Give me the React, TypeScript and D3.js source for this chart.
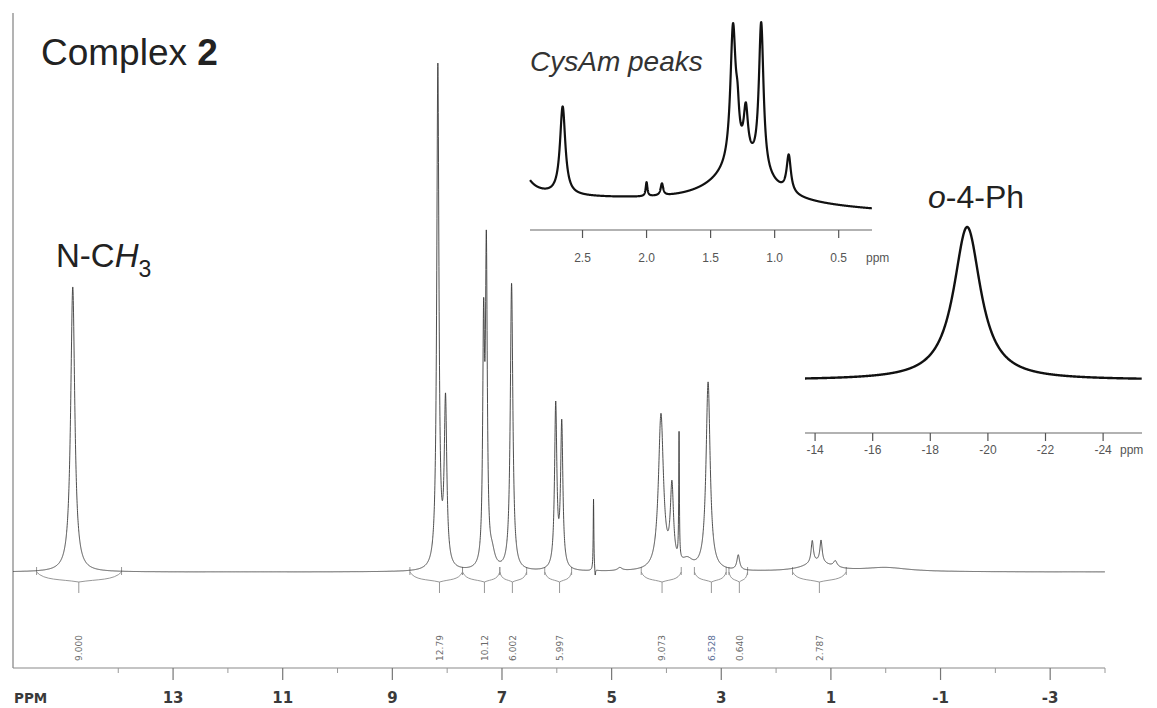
import React, { useEffect } from "react";
import * as d3 from "d3";

const W = 1157;
const H = 708;

// ---------- main spectrum: peak table [ppm, height, half-width(ppm)] ----------
const mainPeaks: [number, number, number][] = [
  [14.83, 285, 0.045],
  [8.17, 502, 0.024],
  [8.03, 164, 0.028],
  [7.335, 228, 0.02],
  [7.285, 305, 0.02],
  [7.18, 14, 0.06],
  [6.825, 287, 0.028],
  [6.02, 163, 0.025],
  [5.91, 144, 0.025],
  [5.33, 72, 0.007],
  [5.3, -8, 0.008],
  [4.85, 3, 0.05],
  [4.1, 155, 0.055],
  [3.9, 78, 0.035],
  [3.77, 126, 0.007],
  [3.62, 9, 0.12],
  [3.24, 188, 0.045],
  [2.69, 15, 0.03],
  [1.25, 9, 0.3],
  [1.34, 22, 0.025],
  [1.18, 22, 0.025],
  [0.92, 6, 0.04],
  [0.0, 4, 0.5],
];

// integrals: from ppm, centre ppm, to ppm, label
const integralFrom = [15.49, 8.68, 7.72, 7.04, 6.22, 4.46, 3.49, 2.86, 1.7];
const integralCentre = [14.72, 8.14, 7.32, 6.81, 5.95, 4.08, 3.18, 2.67, 1.21];
const integralTo = [13.94, 7.72, 7.04, 6.55, 5.73, 3.73, 2.91, 2.52, 0.72];
const integralLabels = ["9.000", "12.79", "10.12", "6.002", "5.997", "9.073", "6.528", "0.640", "2.787"];

const mainMajorTicks = [13, 11, 9, 7, 5, 3, 1, -1, -3];
const mainMinorTicks = [14, 12, 10, 8, 6, 4, 2, 0, -2, -4];

// ---------- inset 1 (CysAm) ----------
const inset1Peaks: [number, number, number][] = [
  [3.0, 32, 0.08],
  [1.25, 42, 0.25],
  [2.655, 88, 0.025],
  [2.0, 14, 0.008],
  [1.88, 12, 0.012],
  [1.325, 135, 0.025],
  [1.29, 30, 0.015],
  [1.225, 47, 0.02],
  [1.105, 149, 0.022],
  [0.89, 37, 0.02],
];
const inset1Baseline: [number, number][] = [
  [2.91, 16],
  [0.24, 1],
];
const inset1Ticks = [2.5, 2.0, 1.5, 1.0, 0.5];

// ---------- inset 2 (o-4-Ph) ----------
const inset2Peaks: [number, number, number][] = [[-19.28, 153, 0.57]];
const inset2Ticks = [-14, -16, -18, -20, -22, -24];

function lorentz(peaks: [number, number, number][], p: number) {
  let s = 0;
  for (const [c, h, g] of peaks) {
    const u = (p - c) / g;
    s += h / (1 + u * u);
  }
  return s;
}

function bracePath(xl: number, xc: number, xr: number, y0: number) {
  const d = 10;
  return (
    `M${xl},${y0} C${xl + (xc - xl) * 0.18},${y0 + d * 0.85} ${xc - (xc - xl) * 0.45},${y0 + d * 0.7} ${xc},${y0 + d} ` +
    `C${xc + (xr - xc) * 0.45},${y0 + d * 0.7} ${xr - (xr - xc) * 0.18},${y0 + d * 0.85} ${xr},${y0}`
  );
}

const SANS = "'Liberation Sans', Arial, Helvetica, sans-serif";
const VERD = "'DejaVu Sans', Verdana, sans-serif";

export default function App() {
  useEffect(() => {
    document.body.style.margin = "0";
  }, []);

  // main scales
  const x = d3.scaleLinear().domain([15.92, -4.0]).range([13, 1105]);
  const y = d3.scaleLinear().domain([0, 509]).range([572, 63]);
  const mainData = d3.range(15.92, -4.0, -0.002).map((p) => [p, lorentz(mainPeaks, p)] as [number, number]);
  const mainLine = d3
    .line<[number, number]>()
    .x((d) => x(d[0]))
    .y((d) => y(d[1]))(mainData) as string;

  // inset 1
  const x1 = d3.scaleLinear().domain([2.91, 0.24]).range([530, 872]);
  const y1 = d3.scaleLinear().domain([0, 200]).range([212, 12]);
  const base1 = d3
    .scaleLinear()
    .domain(inset1Baseline.map((d) => d[0]))
    .range(inset1Baseline.map((d) => d[1]));
  const ins1Data = d3.range(2.91, 0.24, -0.001).map((p) => [p, base1(p) + lorentz(inset1Peaks, p)] as [number, number]);
  const ins1Line = d3
    .line<[number, number]>()
    .x((d) => x1(d[0]))
    .y((d) => y1(d[1]))(ins1Data) as string;

  // inset 2
  const x2 = d3.scaleLinear().domain([-13.65, -25.35]).range([805, 1142]);
  const y2 = d3.scaleLinear().domain([0, 153]).range([380, 227]);
  const ins2Data = d3.range(-13.65, -25.35, -0.01).map((p) => [p, lorentz(inset2Peaks, p)] as [number, number]);
  const ins2Line = d3
    .line<[number, number]>()
    .x((d) => x2(d[0]))
    .y((d) => y2(d[1]))(ins2Data) as string;

  const y0 = y(0);
  const axisY = 668;

  return (
    <svg
      width={W}
      height={H}
      viewBox={`0 0 ${W} ${H}`}
      style={{ display: "block", position: "absolute", left: 0, top: 0, background: "#fff" }}
    >
      <rect x={0} y={0} width={W} height={H} fill="#fff" />
      {/* frame */}
      <line x1={13} y1={13} x2={13} y2={axisY} stroke="#9a9a9a" strokeWidth={1.5} />
      <line x1={13} y1={axisY} x2={x(-4)} y2={axisY} stroke="#8a8a8a" strokeWidth={1.2} />
      {mainMajorTicks.map((t) => (
        <g key={"M" + t}>
          <line x1={x(t)} x2={x(t)} y1={axisY} y2={axisY + 12} stroke="#777" strokeWidth={1.2} />
          <text
            x={x(t)}
            y={703}
            textAnchor="middle"
            fontFamily={VERD}
            fontWeight="bold"
            fontSize={15}
            fill="#3a3a3a"
          >
            {t}
          </text>
        </g>
      ))}
      {mainMinorTicks.map((t) => (
        <line key={"m" + t} x1={x(t)} x2={x(t)} y1={axisY} y2={axisY + 5} stroke="#999" strokeWidth={1} />
      ))}
      <text x={14} y={703} fontFamily={VERD} fontWeight="bold" fontSize={13.5} fill="#3a3a3a">
        PPM
      </text>

      {/* integrals */}
      {integralLabels.map((lab, i) => {
        const xl = x(integralFrom[i]);
        const xc = x(integralCentre[i]);
        const xr = x(integralTo[i]);
        return (
          <g key={"int" + i} fill="none" stroke="#8c8c8c" strokeWidth={0.9}>
            <path d={bracePath(xl, xc, xr, y0)} />
            <line x1={xl} x2={xl} y1={y0 - 5} y2={y0 + 3} />
            <line x1={xr} x2={xr} y1={y0 - 5} y2={y0 + 3} />
            <line x1={xc} x2={xc} y1={y0 + 10} y2={y0 + 21} />
            <text
              transform={`translate(${xc},648) rotate(-90)`}
              textAnchor="middle"
              dy="0.35em"
              fontFamily={VERD}
              fontSize={9}
              fill={lab === "6.528" ? "#5b6f98" : "#6a6a6a"}
              stroke="none"
            >
              {lab}
            </text>
          </g>
        );
      })}

      {/* main spectrum */}
      <path d={mainLine} fill="none" stroke="#3a3a3a" strokeWidth={0.9} />

      {/* inset 1 */}
      <path d={ins1Line} fill="none" stroke="#111" strokeWidth={2.2} strokeLinejoin="round" />
      <line x1={x1(2.91)} x2={x1(0.24)} y1={230} y2={230} stroke="#666" strokeWidth={1.2} />
      {inset1Ticks.map((t) => (
        <g key={"a" + t}>
          <line x1={x1(t)} x2={x1(t)} y1={230} y2={238} stroke="#555" strokeWidth={1.2} />
          <text x={x1(t)} y={262} textAnchor="middle" fontFamily={SANS} fontSize={12} fill="#555">
            {t.toFixed(1)}
          </text>
        </g>
      ))}
      <text x={866} y={262} fontFamily={SANS} fontSize={12} fill="#555">
        ppm
      </text>

      {/* inset 2 */}
      <path d={ins2Line} fill="none" stroke="#111" strokeWidth={2.4} strokeLinejoin="round" />
      <line x1={x2(-13.65)} x2={x2(-25.35)} y1={433} y2={433} stroke="#666" strokeWidth={1.2} />
      {inset2Ticks.map((t) => (
        <g key={"b" + t}>
          <line x1={x2(t)} x2={x2(t)} y1={433} y2={441} stroke="#555" strokeWidth={1.2} />
          <text x={x2(t)} y={454} textAnchor="middle" fontFamily={SANS} fontSize={12} fill="#555">
            {t}
          </text>
        </g>
      ))}
      <text x={1120} y={454} fontFamily={SANS} fontSize={12} fill="#555">
        ppm
      </text>

      {/* labels */}
      <text x={41} y={65} fontFamily={SANS} fontSize={37} fill="#222">
        {"Complex "}
        <tspan fontWeight="bold">2</tspan>
      </text>
      <text x={56} y={267} fontFamily={SANS} fontSize={33} fill="#222">
        N-C<tspan fontStyle="italic">H</tspan>
        <tspan fontSize={23} dy={10}>
          3
        </tspan>
      </text>
      <text x={530} y={71} fontFamily={SANS} fontSize={28} fontStyle="italic" fill="#333">
        CysAm peaks
      </text>
      <text x={928} y={208} fontFamily={SANS} fontSize={32} fill="#222">
        <tspan fontStyle="italic">o</tspan>-4-Ph
      </text>
    </svg>
  );
}
